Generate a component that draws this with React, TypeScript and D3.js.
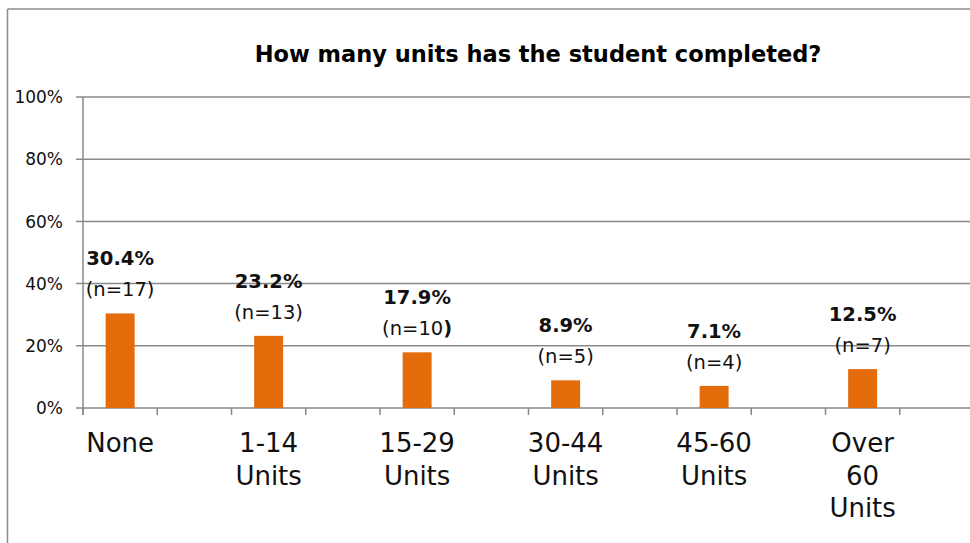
import React from 'react';
import * as d3 from 'd3';

const categories = ['None', '1-14 Units', '15-29 Units', '30-44 Units', '45-60 Units', 'Over 60 Units'];
const categoryLines = [['None'], ['1-14', 'Units'], ['15-29', 'Units'], ['30-44', 'Units'], ['45-60', 'Units'], ['Over', '60', 'Units']];
const shares = [0.304, 0.232, 0.179, 0.089, 0.071, 0.125];
const counts = [17, 13, 10, 5, 4, 7];
const yTicks = [0, 0.2, 0.4, 0.6, 0.8, 1];

const title = 'How many units has the student completed?';

const width = 970;
const height = 543;
const margin = { top: 97, right: -4, bottom: 135, left: 83 };

const font = "'DejaVu Sans', sans-serif";
const gridColor = '#898989';
const barColor = '#E46C0A';

const App: React.FC = () => {
  const x = d3
    .scaleBand<string>()
    .domain(categories)
    .range([margin.left, width - margin.right]);

  const y = d3
    .scaleLinear()
    .domain([0, 1])
    .range([height - margin.bottom, margin.top]);

  const band = x.bandwidth();
  const barW = band * 0.195;
  const barCenter = (c: string) => (x(c) as number) + band / 4;
  const tickXs = categories.flatMap((c) => [x(c) as number, (x(c) as number) + band / 2]);
  tickXs.push(width - margin.right);

  return (
    <svg
      width={width}
      height={height}
      style={{ position: 'absolute', left: 0, top: 0, background: '#fff' }}
      fontFamily={font}
    >
      {/* outer frame (only left and top visible) */}
      <line x1={7.5} x2={7.5} y1={9} y2={height} stroke="#8c8c8c" strokeWidth={1.5} />
      <line x1={7.5} x2={width} y1={9} y2={9} stroke="#8c8c8c" strokeWidth={1.5} />

      <text x={538} y={62} textAnchor="middle" fontWeight="bold" fontSize={22.5} fill="#000">
        {title}
      </text>

      {yTicks.map((t) => (
        <g key={t}>
          <line x1={margin.left - 7} x2={width} y1={y(t)} y2={y(t)} stroke={gridColor} strokeWidth={1.5} />
          <text x={63} y={y(t)} dy="0.36em" textAnchor="end" fontSize={17} fill="#111">
            {`${Math.round(t * 100)}%`}
          </text>
        </g>
      ))}

      <line x1={margin.left} x2={margin.left} y1={y(1)} y2={y(0) + 7} stroke={gridColor} strokeWidth={1.5} />
      {tickXs.map((tx, i) => (
        <line key={i} x1={tx} x2={tx} y1={y(0)} y2={y(0) + 7} stroke={gridColor} strokeWidth={1.5} />
      ))}

      {categories.map((c, i) => (
        <rect
          key={c}
          x={barCenter(c) - barW / 2}
          y={y(shares[i])}
          width={barW}
          height={y(0) - y(shares[i])}
          fill={barColor}
        />
      ))}

      {categories.map((c, i) => {
        const cx = barCenter(c);
        const top = y(shares[i]);
        return (
          <g key={c} fill="#111" textAnchor="middle">
            <text x={cx} y={top - 48} fontWeight="bold" fontSize={19.5}>
              {`${(shares[i] * 100).toFixed(1)}%`}
            </text>
            <text x={cx} y={top - 17} fontSize={19.5}>
              {counts[i] === 10 ? (
                <>
                  {`(n=${counts[i]}`}
                  <tspan fontWeight="bold">)</tspan>
                </>
              ) : (
                `(n=${counts[i]})`
              )}
            </text>
          </g>
        );
      })}

      {categories.map((c, i) => (
        <text key={c} x={barCenter(c)} textAnchor="middle" fontSize={26} fill="#111">
          {categoryLines[i].map((ln, j) => (
            <tspan key={j} x={barCenter(c)} y={452 + j * 32.5}>
              {ln}
            </tspan>
          ))}
        </text>
      ))}
    </svg>
  );
};

export default App;
